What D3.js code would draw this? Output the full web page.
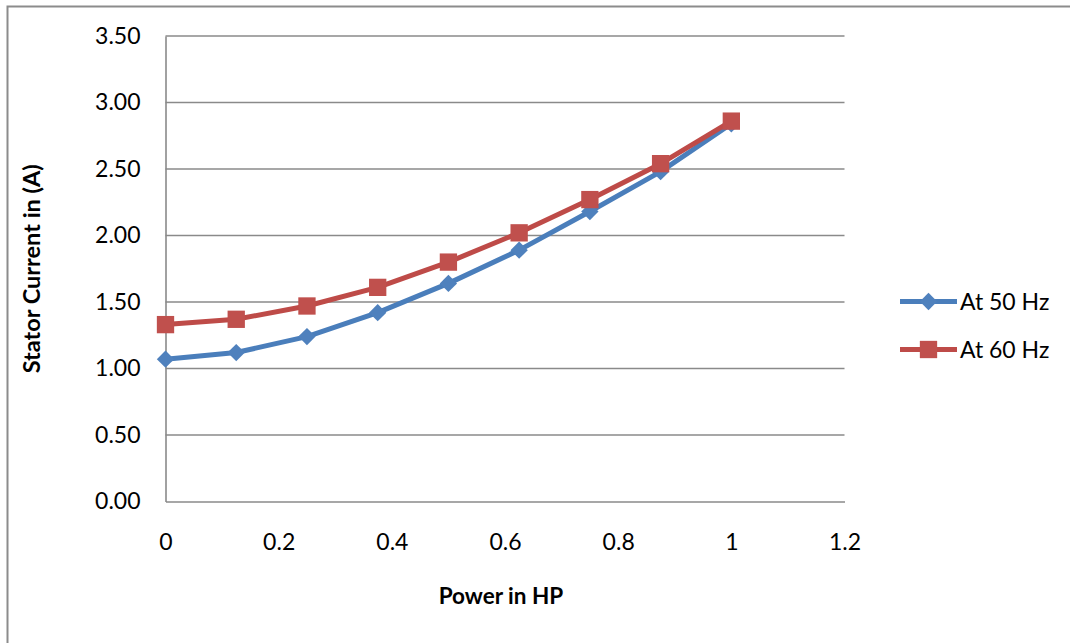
<!DOCTYPE html>
<html>
<head>
<meta charset="utf-8">
<script src="https://cdn.jsdelivr.net/npm/d3@7"></script>
<style>
  html, body { margin: 0; padding: 0; background: #fff; }
  svg { display: block; }
  text { font-family: Lato, "Open Sans", sans-serif; fill: #000; }
</style>
</head>
<body>
<svg id="chart" width="1070" height="643"></svg>
<script>
const power = [0, 0.125, 0.25, 0.375, 0.5, 0.625, 0.75, 0.875, 1];
const at50Hz = [1.07, 1.12, 1.24, 1.42, 1.64, 1.89, 2.18, 2.48, 2.84];
const at60Hz = [1.33, 1.37, 1.47, 1.61, 1.80, 2.02, 2.27, 2.54, 2.86];
const seriesNames = ["At 50 Hz", "At 60 Hz"];
const xTicks = [0, 0.2, 0.4, 0.6, 0.8, 1, 1.2];
const yTicks = [0, 0.5, 1, 1.5, 2, 2.5, 3, 3.5];
const xTitle = "Power in HP";
const yTitle = "Stator Current in (A)";

const svg = d3.select("#chart");
const W = 1070, H = 643;
const plot = { left: 165.5, right: 844.5, top: 36, bottom: 501.5 };

const x = d3.scaleLinear().domain([0, 1.2]).range([plot.left, plot.right]);
const y = d3.scaleLinear().domain([0, 3.5]).range([plot.bottom, plot.top]);

// outer chart frame (top & left visible)
svg.append("path")
  .attr("d", `M7.5,${H} L7.5,6.5 L${W},6.5`)
  .attr("fill", "none").attr("stroke", "#8c8c8c").attr("stroke-width", 2);

// gridlines
const gridColor = "#8a8a8a";
svg.append("g").selectAll("line").data(yTicks.filter(d => d > 0)).join("line")
  .attr("x1", plot.left).attr("x2", plot.right)
  .attr("y1", d => y(d)).attr("y2", d => y(d))
  .attr("stroke", gridColor).attr("stroke-width", 1.6);

// y axis
const yAxis = d3.axisLeft(y).tickValues(yTicks).tickFormat(d3.format(".2f")).tickSize(0).tickPadding(25);
const gy = svg.append("g").attr("transform", `translate(${plot.left},0)`).call(yAxis);
gy.select(".domain").attr("stroke", gridColor).attr("stroke-width", 1.6);
gy.selectAll("text").style("font-size", "23px").attr("fill", "#000");

// x axis
const xAxis = d3.axisBottom(x).tickValues(xTicks).tickFormat(d => d3.format("")(d)).tickSize(0).tickPadding(32);
const gx = svg.append("g").attr("transform", `translate(0,${plot.bottom})`).call(xAxis);
gx.select(".domain").attr("stroke", gridColor).attr("stroke-width", 1.6);
gx.selectAll("text").style("font-size", "23px").attr("fill", "#000");

// titles
svg.append("text").attr("x", 501).attr("y", 603.5)
  .attr("text-anchor", "middle").style("font-size", "22.5px").style("font-weight", "bold").text(xTitle);
svg.append("text").attr("transform", `translate(40,${(plot.top + plot.bottom) / 2}) rotate(-90)`)
  .attr("text-anchor", "middle").style("font-size", "23.5px").style("font-weight", "bold").text(yTitle);

const series = [
  { name: seriesNames[0], values: at50Hz, line: "#4A7EBB", fill: "#4F81BD", shape: d3.symbolSquare, size: 150, rot: 45 },
  { name: seriesNames[1], values: at60Hz, line: "#BE4B48", fill: "#C0504D", shape: d3.symbolSquare, size: 300, rot: 0 }
];

const lineGen = d3.line().x(d => x(d[0])).y(d => y(d[1]));

series.forEach(s => {
  const pts = power.map((p, i) => [p, s.values[i]]);
  svg.append("path").datum(pts).attr("d", lineGen)
    .attr("fill", "none").attr("stroke", s.line).attr("stroke-width", 5).attr("stroke-linejoin", "round");
  svg.append("g").selectAll("path").data(pts).join("path")
    .attr("transform", d => `translate(${x(d[0])},${y(d[1])}) rotate(${s.rot})`)
    .attr("d", d3.symbol().type(s.shape).size(s.size))
    .attr("fill", s.fill);
});

// legend
const legY = [301.5, 349.5];
series.forEach((s, i) => {
  const g = svg.append("g").attr("transform", `translate(0,${legY[i]})`);
  g.append("line").attr("x1", 900).attr("x2", 957).attr("y1", 0).attr("y2", 0)
    .attr("stroke", s.line).attr("stroke-width", 5);
  g.append("path").attr("transform", `translate(928.5,0) rotate(${s.rot})`)
    .attr("d", d3.symbol().type(s.shape).size(s.size)).attr("fill", s.fill);
  g.append("text").attr("x", 960).attr("y", 0).attr("dy", "0.35em")
    .style("font-size", "23px").text(s.name);
});
</script>
</body>
</html>
